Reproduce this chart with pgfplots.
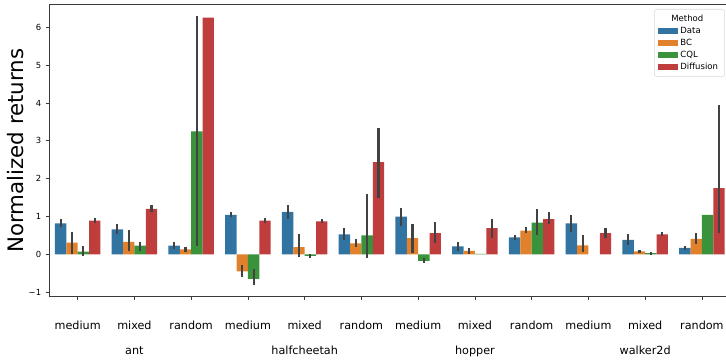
\documentclass[border=0pt]{standalone}
\usepackage{fontspec}
\setmainfont{DejaVu Sans}
\usepackage{pgfplots}
\pgfplotsset{compat=1.18}
\usepackage{pgfplotstable}
\definecolor{cData}{HTML}{3274A1}
\definecolor{cBC}{HTML}{E1812C}
\definecolor{cCQL}{HTML}{3A923A}
\definecolor{cDiff}{HTML}{C03D3E}
\definecolor{errc}{HTML}{424242}
\definecolor{spine}{HTML}{3A3A3A}

% x = category index + offset; lo/hi = confidence interval
\pgfplotstableread{
x y lo hi
-0.3 0.82 0.71 0.93
0.7 0.66 0.55 0.79
1.7 0.23 0.13 0.33
2.7 1.04 0.98 1.12
3.7 1.12 0.93 1.30
4.7 0.53 0.39 0.69
5.7 1.00 0.74 1.23
6.7 0.21 0.09 0.32
7.7 0.45 0.38 0.51
8.7 0.82 0.60 1.04
9.7 0.38 0.26 0.53
10.7 0.17 0.11 0.23
}\tData
\pgfplotstableread{
x y lo hi
-0.1 0.31 0.00 0.60
0.9 0.33 0.08 0.64
1.9 0.13 0.06 0.20
2.9 -0.45 -0.61 -0.27
3.9 0.19 -0.06 0.55
4.9 0.29 0.20 0.40
5.9 0.43 0.04 0.79
6.9 0.09 0.02 0.16
7.9 0.63 0.56 0.71
8.9 0.24 0.07 0.51
9.9 0.08 0.04 0.12
10.9 0.41 0.27 0.56
}\tBC
\pgfplotstableread{
x y lo hi
0.1 0.07 -0.05 0.21
1.1 0.23 0.10 0.33
2.1 3.25 0.23 6.30
3.1 -0.65 -0.80 -0.39
4.1 -0.04 -0.09 0.01
5.1 0.50 -0.09 1.60
6.1 -0.17 -0.22 -0.10
7.1 0.01 0.01 0.01
8.1 0.84 0.51 1.19
10.1 0.035 -0.02 0.06
11.1 1.04 1.04 1.04
}\tCQL
\pgfplotstableread{
x y lo hi
0.3 0.89 0.82 0.97
1.3 1.20 1.12 1.31
2.3 6.26 6.26 6.26
3.3 0.89 0.84 0.95
4.3 0.87 0.84 0.94
5.3 2.44 1.50 3.35
6.3 0.56 0.31 0.85
7.3 0.69 0.43 0.94
8.3 0.93 0.81 1.13
9.3 0.56 0.44 0.70
10.3 0.53 0.48 0.58
11.3 1.75 0.56 3.95
}\tDiff

\begin{document}
\begin{tikzpicture}
\begin{axis}[
  at={(0,0)}, anchor=south west,
  scale only axis, width=510.75pt, height=219pt,
  xmin=-0.5, xmax=11.5, ymin=-1.12, ymax=6.6,
  axis line style={spine, line width=0.6pt},
  tick style={spine, line width=0.6pt},
  tick align=outside, tick pos=left, major tick length=2.6pt,
  xtick={0,...,11},
  xticklabels={medium,mixed,random,medium,mixed,random,medium,mixed,random,medium,mixed,random},
  xticklabel style={font=\fontsize{8.4}{10}\selectfont, anchor=base, yshift=-22pt},
  extra x ticks={1,4,7,10},
  extra x tick labels={ant,halfcheetah,hopper,walker2d},
  extra x tick style={major tick length=0pt, xticklabel style={yshift=-21pt}},
  ytick={-1,0,...,6},
  yticklabels={−1,0,1,2,3,4,5,6},
  yticklabel style={font=\fontsize{6.3}{7.5}\selectfont},
  ylabel={Normalized returns},
  every axis y label/.style={at={(axis description cs:0,0.5)}, xshift=-25.5pt, rotate=90, anchor=center, font=\fontsize{16}{19}\selectfont},
  mybar/.style={ybar, bar width=0.2, bar shift=0pt, draw=none, forget plot,
    error bars/y dir=both, error bars/y explicit, error bars/error mark=none,
    error bars/error bar style={line width=1.6pt, color=errc}},
  legend image code/.code={\fill[#1, draw=none, sharp corners] (0pt,-2pt) rectangle (14.5pt,2pt);},
  legend cell align=left,
  legend style={at={(0.9922,0.9853)}, anchor=north east, draw=black!15, rounded corners=2pt,
    fill=white, font=\fontsize{6.4}{7.5}\selectfont, inner xsep=3pt, inner ysep=2pt, row sep=-1.2pt},
]
\addplot[mybar, fill=cData] table[x=x, y=y, y error plus expr=\thisrow{hi}-\thisrow{y}, y error minus expr=\thisrow{y}-\thisrow{lo}] {\tData};
\addplot[mybar, fill=cBC] table[x=x, y=y, y error plus expr=\thisrow{hi}-\thisrow{y}, y error minus expr=\thisrow{y}-\thisrow{lo}] {\tBC};
\addplot[mybar, fill=cCQL] table[x=x, y=y, y error plus expr=\thisrow{hi}-\thisrow{y}, y error minus expr=\thisrow{y}-\thisrow{lo}] {\tCQL};
\addplot[mybar, fill=cDiff] table[x=x, y=y, y error plus expr=\thisrow{hi}-\thisrow{y}, y error minus expr=\thisrow{y}-\thisrow{lo}] {\tDiff};
\addlegendimage{empty legend}\addlegendentry{\hspace{-6.75pt}Method}
\addlegendimage{fill=cData}\addlegendentry{Data}
\addlegendimage{fill=cBC}\addlegendentry{BC}
\addlegendimage{fill=cCQL}\addlegendentry{CQL}
\addlegendimage{fill=cDiff}\addlegendentry{Diffusion}
\end{axis}
\pgfresetboundingbox
\path[use as bounding box] (-36.975pt,-47.475pt) rectangle (507.525pt,222.525pt);
\end{tikzpicture}
\end{document}
